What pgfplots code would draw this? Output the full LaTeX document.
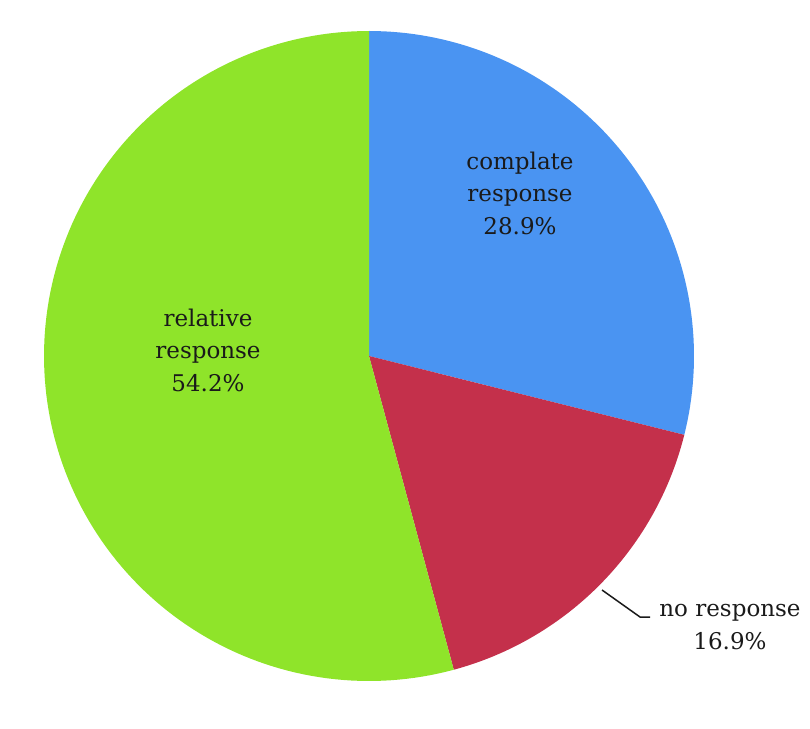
\documentclass[border=0pt]{standalone}
\usepackage{pgfplots}
\pgfplotsset{compat=1.18}
\usepackage{fontspec}
\setmainfont{DejaVu Serif}
\definecolor{cblue}{HTML}{4A94F2}
\definecolor{cred}{HTML}{C4304B}
\definecolor{cgreen}{HTML}{8FE42A}
\definecolor{ctext}{HTML}{1A1A1A}
% slice shares (percent), clockwise from 12 o'clock
\def\pComplete{28.9}
\def\pNone{16.9}
\def\pRelative{54.2}
\begin{document}
\begin{tikzpicture}
\pgfmathsetmacro{\aA}{90}
\pgfmathsetmacro{\aB}{90-\pComplete*3.6}
\pgfmathsetmacro{\aC}{\aB-\pNone*3.6}
\pgfmathsetmacro{\aD}{\aC-\pRelative*3.6}
\begin{axis}[
  scale only axis, width=810pt, height=728pt,
  xmin=0, xmax=810, ymin=0, ymax=728,
  hide axis, clip=false]
\path (axis cs:0,0) rectangle (axis cs:810,728);
\addplot[fill=cblue, draw=none, domain=\aB:\aA, samples=80]
  ({369+325*cos(x)},{372+325*sin(x)}) -- (axis cs:369,372) -- cycle;
\addplot[fill=cred, draw=none, domain=\aC:\aB, samples=60]
  ({369+325*cos(x)},{372+325*sin(x)}) -- (axis cs:369,372) -- cycle;
\addplot[fill=cgreen, draw=none, domain=\aD:\aC, samples=140]
  ({369+325*cos(x)},{372+325*sin(x)}) -- (axis cs:369,372) -- cycle;
\draw[ctext, line width=1.5pt] (axis cs:602,138) -- (axis cs:640,111) -- (axis cs:650,111);
\node[ctext, align=center, font=\fontsize{23}{32.5}\selectfont] at (axis cs:520,535) {complate\\response\\28.9\%};
\node[ctext, align=center, font=\fontsize{23}{32.5}\selectfont] at (axis cs:208,378) {relative\\response\\54.2\%};
\node[ctext, align=center, font=\fontsize{23}{32.5}\selectfont] at (axis cs:730,101) {no response\\16.9\%};
\end{axis}
\end{tikzpicture}
\end{document}
